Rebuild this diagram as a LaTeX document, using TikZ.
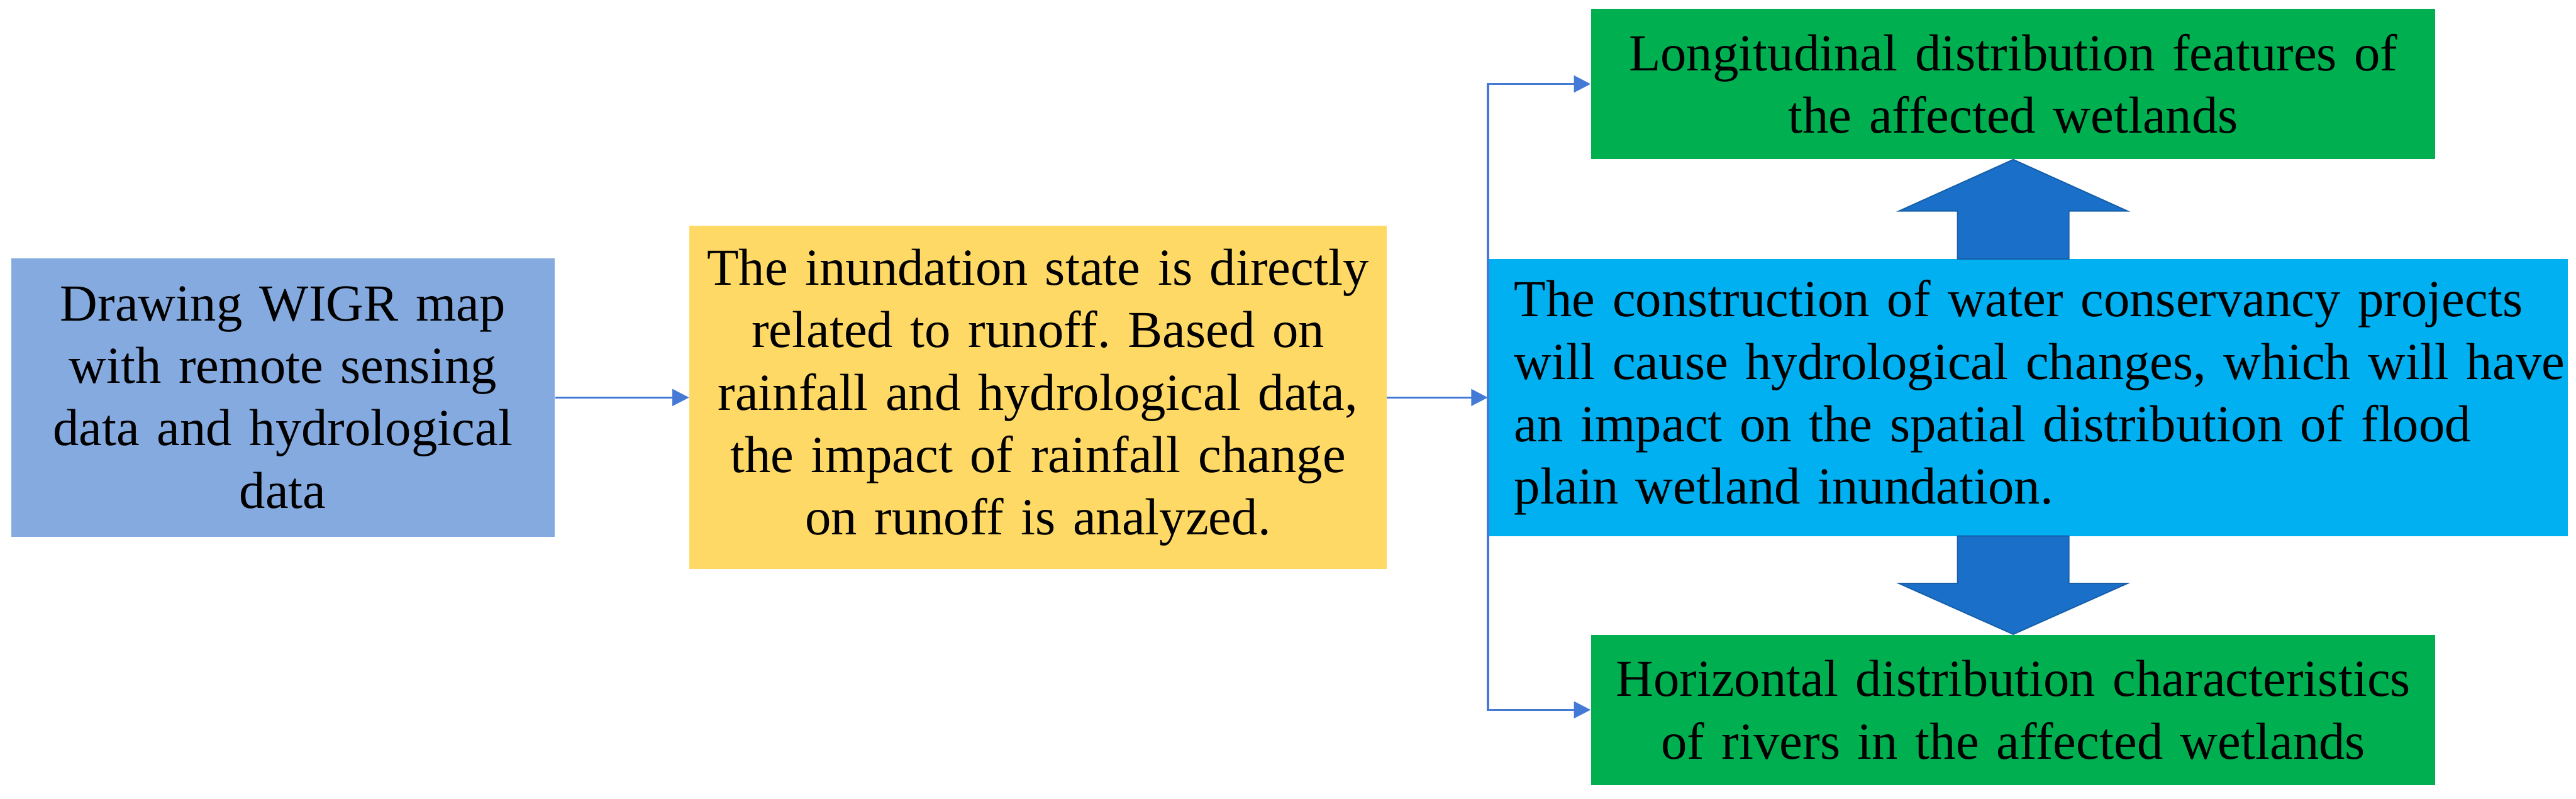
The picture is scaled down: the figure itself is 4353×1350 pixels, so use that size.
\documentclass[tikz,border=0pt]{standalone}
\usepackage{fontspec}
\setmainfont{Liberation Serif}
\usepackage{xcolor}
\usepackage{tikz}
\usetikzlibrary{arrows.meta, positioning, calc}

\definecolor{wigrblue}{RGB}{133,170,223}
\definecolor{runoffyellow}{RGB}{255,217,102}
\definecolor{projcyan}{RGB}{0,176,240}
\definecolor{featgreen}{RGB}{0,176,80}
\definecolor{linkblue}{RGB}{68,122,214}
\definecolor{bigblue}{RGB}{26,112,200}

\newcommand{\jline}[1]{\makebox[\hsize][s]{#1}\\}

\begin{document}
\frenchspacing
\begin{tikzpicture}[x=0.01cm, y=-0.01cm,
  box/.style={rectangle, inner sep=0pt, align=center, font=\fontsize{25}{30}\selectfont\frenchspacing},
  link/.style={-{Triangle[length=8pt,width=8pt]}, draw=linkblue, line width=1pt},
  bigarrow/.style={fill=bigblue, draw=bigblue!85!black, line width=0.6pt}
]
  \useasboundingbox (0,0) rectangle (4353,1350);
  \node[box, fill=wigrblue, minimum width=9.18cm, minimum height=4.7cm, text width=8.8cm] (wigr) at (478,672) {Drawing WIGR map\\with remote sensing\\data and hydrological\\data};
  \node[box, fill=runoffyellow, minimum width=11.77cm, minimum height=5.8cm, text width=11.2cm] (runoff) at (1754,672) {The inundation state is directly\\related to runoff. Based on\\rainfall and hydrological data,\\the impact of rainfall change\\on runoff is analyzed.};
  \node[box, fill=projcyan, align=left, minimum width=18.23cm, minimum height=4.69cm, text width=17.35cm] (project) at (3427,672) {\jline{The construction of water conservancy projects}\jline{will cause hydrological changes, which will have}\jline{an impact on the spatial distribution of flood}plain wetland inundation.};
  \node[box, fill=featgreen, minimum width=14.26cm, minimum height=2.54cm, text width=14cm] (longi) at (3402,142) {Longitudinal distribution features of\\the affected wetlands};
  \node[box, fill=featgreen, minimum width=14.26cm, minimum height=2.54cm, text width=14cm] (horiz) at (3402,1200) {Horizontal distribution characteristics\\of rivers in the affected wetlands};

  \draw[link] (wigr) -- (runoff);
  \draw[link] (runoff) -- (project);
  \draw[link] (project.west) |- (longi);
  \draw[link] (project.west) |- (horiz);

  % block arrows
  \draw[bigarrow] (longi.south) -- ++(193,87) -- ++(-99,0) -- ++(0,81) -- ++(-188,0) -- ++(0,-81) -- ++(-99,0) -- cycle;
  \draw[bigarrow] (horiz.north) -- ++(193,-86) -- ++(-99,0) -- ++(0,-80) -- ++(-188,0) -- ++(0,80) -- ++(-99,0) -- cycle;
\end{tikzpicture}
\end{document}
